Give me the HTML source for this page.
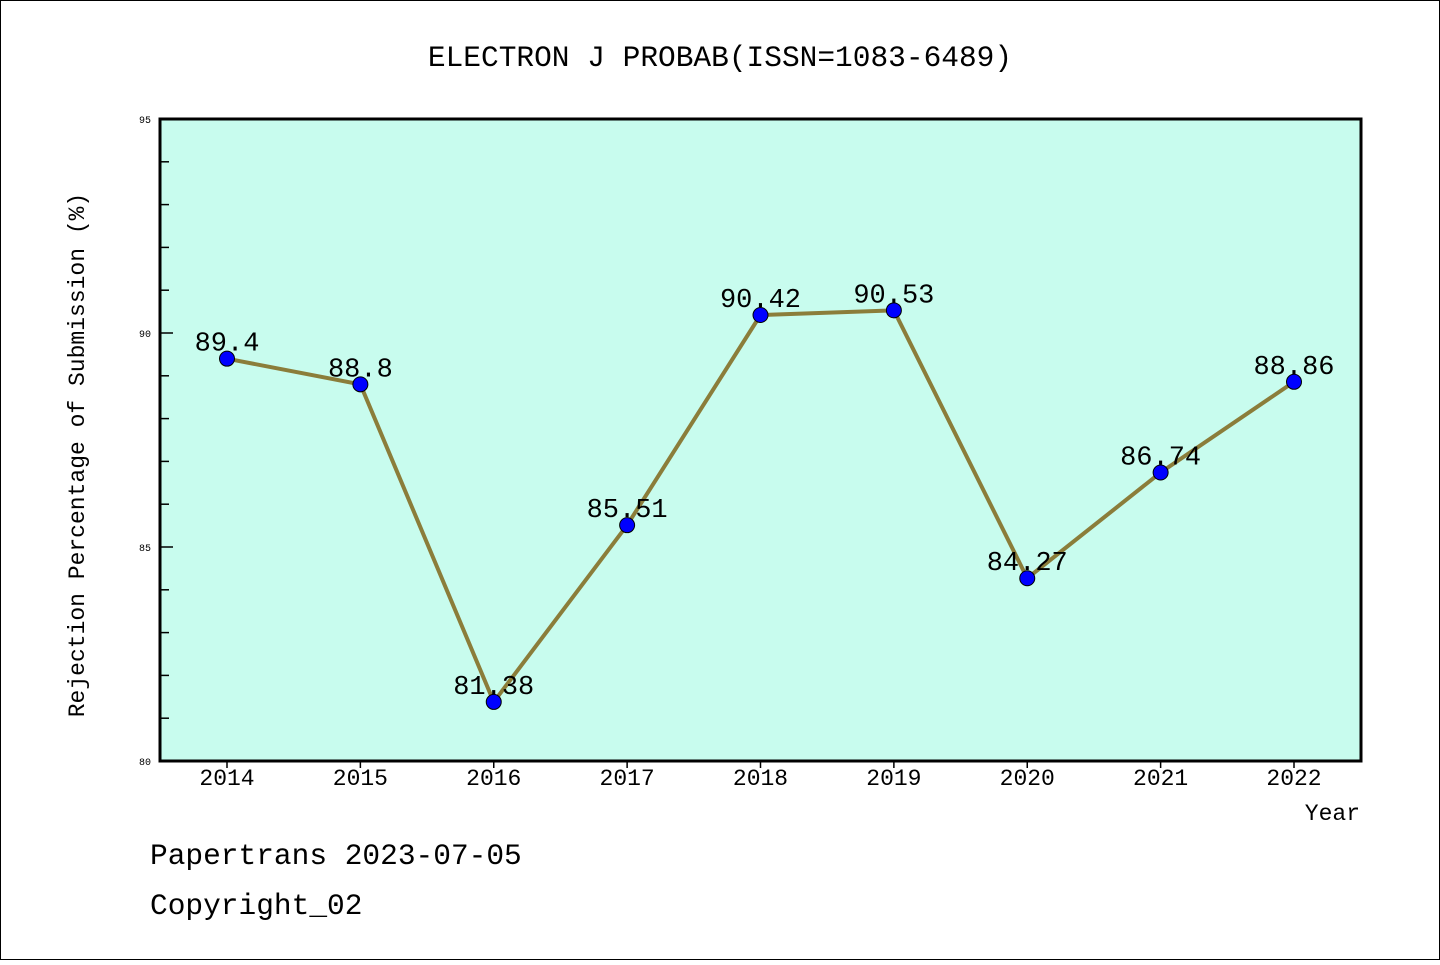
<!DOCTYPE html>
<html><head><meta charset="utf-8"><style>
body{margin:0;background:#fff}
svg text{font-family:"WenQuanYi Zen Hei","Liberation Mono",monospace}
</style></head><body>
<svg width="1440" height="960" xmlns="http://www.w3.org/2000/svg">
<rect x="0.5" y="0.5" width="1439" height="959" fill="#fff" stroke="#000"/>
<text x="720" y="66" font-size="29.5" text-anchor="middle">ELECTRON J PROBAB(ISSN=1083-6489)</text>
<rect x="160" y="119" width="1201" height="642" fill="#c8fcee"/>
<g id="axes"></g>
<g id="marks"></g>
<rect x="160" y="119" width="1201" height="642" fill="none" stroke="#000" stroke-width="3"/>
<text transform="translate(84,455) rotate(-90)" font-size="23" text-anchor="middle">Rejection Percentage of Submission (%)</text>
<text x="1360" y="820" font-size="23" text-anchor="end">Year</text>
<text x="150" y="864" font-size="29.5">Papertrans 2023-07-05</text>
<text x="150" y="914" font-size="29.5">Copyright_02</text>
</svg>
<script>
const years=["2014","2015","2016","2017","2018","2019","2020","2021","2022"];
const rates=[89.4,88.8,81.38,85.51,90.42,90.53,84.27,86.74,88.86];
const rateLabels=["89.4","88.8","81.38","85.51","90.42","90.53","84.27","86.74","88.86"];
const yTicks=[80,85,90,95];
const SVGNS="http://www.w3.org/2000/svg";
const yMin=80,yMax=95,plotTop=119,plotBot=761;
const yS=v=>plotBot-(v-yMin)/(yMax-yMin)*(plotBot-plotTop);
const xS=i=>227+i*(1294-227)/(years.length-1);
function mk(t,a,p){const e=document.createElementNS(SVGNS,t);for(const k in a)e.setAttribute(k,a[k]);p.appendChild(e);return e;}
const ax=document.getElementById('axes'),mg=document.getElementById('marks');
for(let v=yMin;v<=yMax;v++){
 const maj=yTicks.includes(v);
 const l=mk('line',{x1:160,x2:maj?173:169,y1:yS(v),y2:yS(v),stroke:'#000','stroke-width':1.5},ax);
 
 
}
yTicks.forEach(v=>{
 const t=mk('text',{x:151,y:yS(v)+4,'font-size':10,'text-anchor':'end'},ax);t.textContent=v;
 
 
});
years.forEach((yr,i)=>{
 const l=mk('line',{x1:xS(i),x2:xS(i),y1:761,y2:768,stroke:'#000','stroke-width':1.5},ax);
 
 
 const t=mk('text',{x:xS(i),y:785,'font-size':23,'text-anchor':'middle'},ax);t.textContent=yr;
 
 
});
const pl=mk('polyline',{points:rates.map((v,i)=>xS(i)+','+yS(v)).join(' '),fill:'none',stroke:'#8b7d3a','stroke-width':4},mg);


rates.forEach((v,i)=>{
 const c=mk('circle',{cx:xS(i),cy:yS(v),r:7.5,fill:'#0000ff',stroke:'#000','stroke-width':1},mg);
 
 
 const t=mk('text',{x:xS(i),y:yS(v)-8,'font-size':27,'text-anchor':'middle'},mg);t.textContent=rateLabels[i];
 
 
});
</script>
</body></html>
